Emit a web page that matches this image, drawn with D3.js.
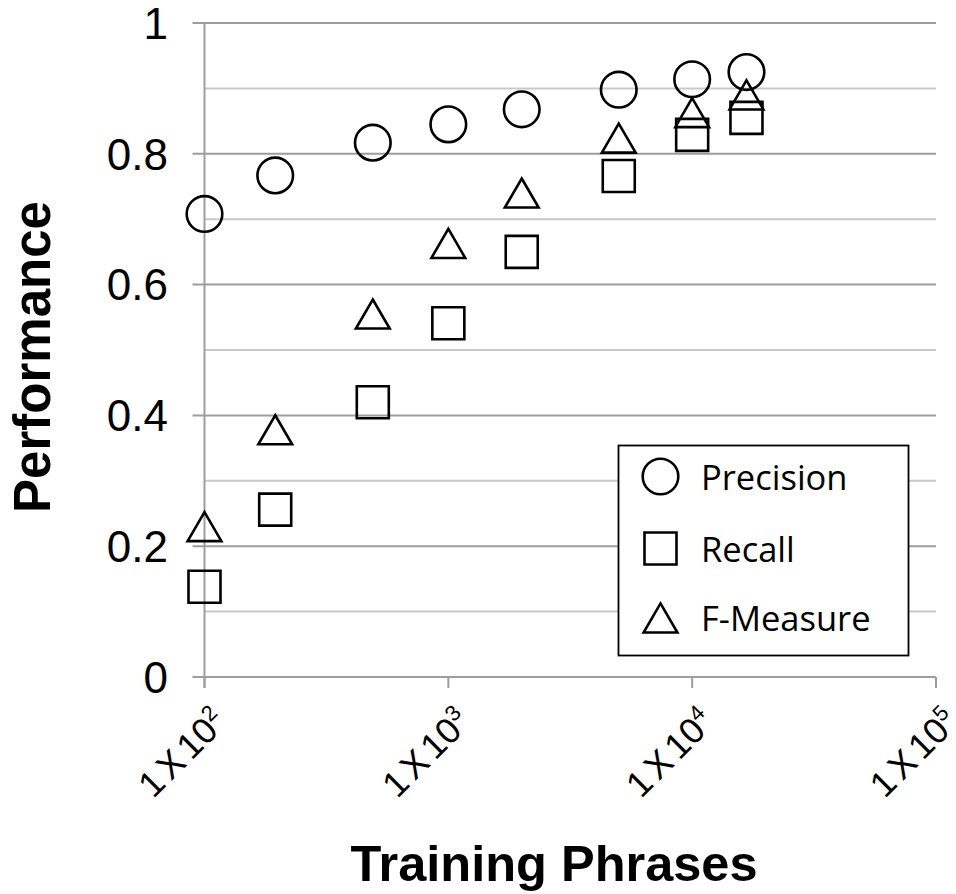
<!DOCTYPE html>
<html>
<head>
<meta charset="utf-8">
<script src="https://cdn.jsdelivr.net/npm/d3@7"></script>
<style>
  html, body { margin: 0; padding: 0; background: #fff; }
  svg { display: block; }
</style>
</head>
<body>
<svg id="chart" width="956" height="894"></svg>
<script>
// Training-set size (number of phrases) on a log axis
const phrases = [100, 195, 490, 1000, 2000, 5000, 10000, 16700];

// Scores for each training-set size
const precision = [0.708, 0.767, 0.817, 0.845, 0.868, 0.898, 0.914, 0.925];
const recall    = [0.138, 0.256, 0.420, 0.541, 0.650, 0.766, 0.829, 0.855];
const fMeasure  = [0.230, 0.378, 0.555, 0.663, 0.740, 0.824, 0.863, 0.890];

// Axis ticks
const yTicks = [0, 0.2, 0.4, 0.6, 0.8, 1];
const yMinor = [0.1, 0.3, 0.5, 0.7, 0.9];
const xTickExponents = [2, 3, 4, 5];

const seriesNames = ["Precision", "Recall", "F-Measure"];

const svg = d3.select("#chart");

const x = d3.scaleLog().domain([100, 100000]).range([204.5, 936]);
const y = d3.scaleLinear().domain([0, 1]).range([677, 23]);

const majorColor = "#9d9d9d";
const minorColor = "#c9c9c9";

// Minor horizontal gridlines
svg.append("g").selectAll("line").data(yMinor).join("line")
  .attr("x1", x(100)).attr("x2", x(100000))
  .attr("y1", d => y(d)).attr("y2", d => y(d))
  .attr("stroke", minorColor).attr("stroke-width", 2);

// Major horizontal gridlines with left tick stubs
svg.append("g").selectAll("line").data(yTicks).join("line")
  .attr("x1", x(100) - 12).attr("x2", x(100000))
  .attr("y1", d => y(d)).attr("y2", d => y(d))
  .attr("stroke", majorColor).attr("stroke-width", 2);

// Vertical axis line
svg.append("line")
  .attr("x1", x(100)).attr("x2", x(100))
  .attr("y1", y(1)).attr("y2", y(0) + 11)
  .attr("stroke", majorColor).attr("stroke-width", 2);

// Bottom tick marks at each decade
svg.append("g").selectAll("line").data(xTickExponents).join("line")
  .attr("x1", d => x(Math.pow(10, d))).attr("x2", d => x(Math.pow(10, d)))
  .attr("y1", y(0)).attr("y2", y(0) + 11)
  .attr("stroke", majorColor).attr("stroke-width", 2);

// Y tick labels
svg.append("g").selectAll("text").data(yTicks).join("text")
  .attr("x", 168).attr("y", d => y(d))
  .attr("dy", "0.36em")
  .attr("text-anchor", "end")
  .attr("font-family", "'Liberation Sans', Arial, sans-serif")
  .attr("font-size", 44)
  .attr("fill", "#000")
  .text(d => d3.format("~g")(d));

// X tick labels, rotated, with superscript exponents
const xLabels = svg.append("g").selectAll("text").data(xTickExponents).join("text")
  .attr("transform", d => `translate(${x(Math.pow(10, d)) + 24},${y(0) + 47}) rotate(-45)`)
  .attr("text-anchor", "end")
  .attr("font-family", "'Liberation Sans', Arial, sans-serif")
  .attr("font-size", 36)
  .attr("fill", "#000");
xLabels.append("tspan").text("1");
xLabels.append("tspan").attr("dx", 5).text("X");
xLabels.append("tspan").attr("dx", 5).text("10");
xLabels.append("tspan").attr("dy", -14).attr("font-size", 22).text(d => d);

// Axis titles
svg.append("text")
  .attr("transform", `translate(50,357) rotate(-90)`)
  .attr("text-anchor", "middle")
  .attr("font-family", "'Liberation Sans', Arial, sans-serif")
  .attr("font-weight", "bold")
  .attr("font-size", 51)
  .attr("fill", "#000")
  .text("Performance");

svg.append("text")
  .attr("x", 554).attr("y", 881)
  .attr("text-anchor", "middle")
  .attr("font-family", "'Liberation Sans', Arial, sans-serif")
  .attr("font-weight", "bold")
  .attr("font-size", 50.5)
  .attr("fill", "#000")
  .text("Training Phrases");

// Marker shapes: circle, square, and a triangle centred on its bounding box
const triangleBox = {
  draw(ctx, size) {
    const w = Math.sqrt(size) * 1.09;
    const h = w * 0.86;
    ctx.moveTo(0, -h / 2);
    ctx.lineTo(w / 2, h / 2);
    ctx.lineTo(-w / 2, h / 2);
    ctx.closePath();
  }
};
const shapes = [
  d3.symbol().type(d3.symbolCircle).size(Math.PI * 17.8 * 17.8),
  d3.symbol().type(d3.symbolSquare).size(32 * 32),
  d3.symbol().type(triangleBox).size(31 * 31)
];

const seriesValues = [precision, recall, fMeasure];
const markerStyle = sel => sel
  .attr("fill", "none")
  .attr("stroke", "#000")
  .attr("stroke-width", 2.6)
  .attr("stroke-linejoin", "miter");

// Draw recall, then F-measure, then precision
[1, 2, 0].forEach(si => {
  svg.append("g").selectAll("path").data(seriesValues[si]).join("path")
    .attr("transform", (d, i) => `translate(${x(phrases[i])},${y(d)})`)
    .attr("d", shapes[si]())
    .call(markerStyle);
});

// Legend
const legend = svg.append("g");
legend.append("rect")
  .attr("x", 618.5).attr("y", 445.5).attr("width", 290).attr("height", 210)
  .attr("fill", "#fff").attr("stroke", "#000").attr("stroke-width", 1.8);

const legendRows = [476.5, 548.5, 618];
seriesNames.forEach((name, i) => {
  legend.append("path")
    .attr("transform", `translate(660.5,${legendRows[i]})`)
    .attr("d", shapes[i]())
    .call(markerStyle);
  legend.append("text")
    .attr("x", 701).attr("y", legendRows[i] + 13)
    .attr("font-family", "'Open Sans', sans-serif")
    .attr("font-size", 34.5)
    .attr("fill", "#000")
    .text(name);
});
</script>
</body>
</html>
